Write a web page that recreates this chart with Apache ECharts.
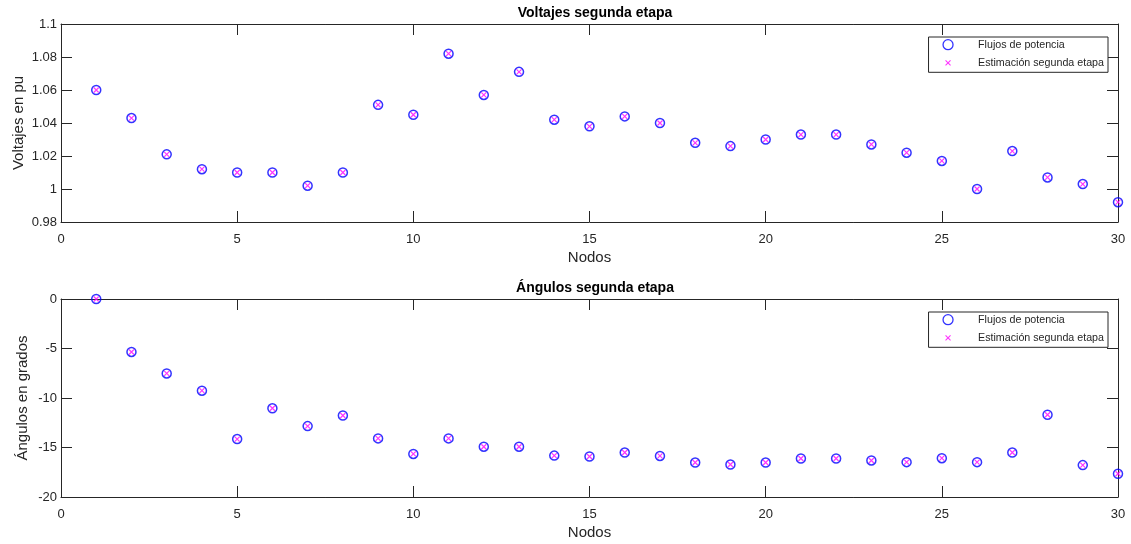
<!DOCTYPE html>
<html>
<head>
<meta charset="utf-8">
<script src="https://cdn.jsdelivr.net/npm/echarts@6/dist/echarts.min.js"></script>
<style>
  html, body { margin: 0; padding: 0; background: #fff; }
  #chart { width: 1131px; height: 544px; }
</style>
</head>
<body>
<div id="chart"></div>
<script>
// nodos del sistema
var nodos = [1, 2, 3, 4, 5, 6, 7, 8, 9, 10, 11, 12, 13, 14, 15, 16, 17, 18, 19, 20, 21, 22, 23, 24, 25, 26, 27, 28, 29, 30]

// voltajes en pu
var voltFlujos = [1.060, 1.043, 1.021, 1.012, 1.010, 1.010, 1.002, 1.010, 1.051, 1.045, 1.082, 1.057, 1.071, 1.042, 1.038,
  1.044, 1.040, 1.028, 1.026, 1.030, 1.033, 1.033, 1.027, 1.022, 1.017, 1.000, 1.023, 1.007, 1.003, 0.992]
var voltEstim = [1.060, 1.043, 1.021, 1.012, 1.010, 1.010, 1.002, 1.010, 1.051, 1.045, 1.082, 1.057, 1.071, 1.042, 1.038,
  1.044, 1.040, 1.028, 1.026, 1.030, 1.033, 1.033, 1.027, 1.022, 1.017, 1.000, 1.023, 1.007, 1.003, 0.992]

// angulos en grados
var angFlujos = [0, -5.35, -7.52, -9.26, -14.15, -11.04, -12.84, -11.77, -14.08, -15.65, -14.08, -14.92, -14.92, -15.82, -15.91,
  -15.51, -15.85, -16.52, -16.72, -16.52, -16.11, -16.11, -16.31, -16.48, -16.08, -16.48, -15.51, -11.69, -16.78, -17.65]
var angEstim = [0, -5.35, -7.52, -9.26, -14.15, -11.04, -12.84, -11.77, -14.08, -15.65, -14.08, -14.92, -14.92, -15.82, -15.91,
  -15.51, -15.85, -16.52, -16.72, -16.52, -16.11, -16.11, -16.31, -16.48, -16.08, -16.48, -15.51, -11.69, -16.78, -17.65]

var nombres = ['Flujos de potencia', 'Estimación segunda etapa']

var font = 'Liberation Sans, Arial, Helvetica, sans-serif'
var ink = '#262626'
var cruz = 'path://M0,0L10,10M10,0L0,10'

function pares(ys) {
  return nodos.map(function (n, i) { return [n, ys[i]] })
}

// eje x con marco tipo matlab (abajo con etiquetas, arriba solo ticks)
function ejesX(grid) {
  return [
    {
      gridIndex: grid, type: 'value', min: 0, max: 30, interval: 5,
      name: 'Nodos', nameLocation: 'middle', nameGap: 28,
      nameTextStyle: { fontFamily: font, fontSize: 15, color: ink },
      axisLine: { onZero: false, lineStyle: { color: ink, width: 1 } },
      axisTick: { inside: true, length: 11, lineStyle: { color: ink } },
      axisLabel: { margin: 11, fontFamily: font, fontSize: 13, color: ink },
      splitLine: { show: false }
    },
    {
      gridIndex: grid, type: 'value', position: 'top', min: 0, max: 30, interval: 5,
      axisLine: { onZero: false, lineStyle: { color: ink, width: 1 } },
      axisTick: { inside: true, length: 11, lineStyle: { color: ink } },
      axisLabel: { show: false },
      splitLine: { show: false }
    }
  ]
}

function ejesY(grid, min, max, step, nombre, gap, fmt) {
  return [
    {
      gridIndex: grid, type: 'value', min: min, max: max, interval: step,
      name: nombre, nameLocation: 'middle', nameGap: gap, nameMoveOverlap: false,
      nameTextStyle: { fontFamily: font, fontSize: 15, color: ink },
      axisLine: { show: true, onZero: false, lineStyle: { color: ink, width: 1 } },
      axisTick: { show: true, inside: true, length: 11, lineStyle: { color: ink } },
      axisLabel: { margin: 4, fontFamily: font, fontSize: 13, color: ink, formatter: fmt },
      splitLine: { show: false }
    },
    {
      gridIndex: grid, type: 'value', position: 'right', min: min, max: max, interval: step,
      axisLine: { show: true, onZero: false, lineStyle: { color: ink, width: 1 } },
      axisTick: { show: true, inside: true, length: 11, lineStyle: { color: ink } },
      axisLabel: { show: false },
      splitLine: { show: false }
    }
  ]
}

function series(xi, yi, flujos, estim) {
  return [
    {
      name: nombres[0], type: 'scatter', xAxisIndex: xi, yAxisIndex: yi,
      symbol: 'circle', symbolSize: 9,
      itemStyle: { color: 'rgba(0,0,0,0)', borderColor: '#0000ff', borderWidth: 1.5 },
      data: pares(flujos)
    },
    {
      name: nombres[1], type: 'scatter', xAxisIndex: xi, yAxisIndex: yi,
      symbol: cruz, symbolSize: 5,
      itemStyle: { color: 'none', borderColor: '#ff00ff', borderWidth: 1.2 },
      data: pares(estim)
    }
  ]
}

function leyenda(top) {
  return {
    orient: 'vertical', right: 23, top: top,
    padding: [2, 4, 2, 12], itemGap: 5, itemWidth: 10, itemHeight: 10,
    borderColor: ink, borderWidth: 1, backgroundColor: '#fff',
    textStyle: { fontFamily: font, fontSize: 10.7, lineHeight: 10, color: ink, padding: [0, 0, 0, 20] },
    data: [
      { name: nombres[0], icon: 'circle', itemStyle: { color: 'rgba(0,0,0,0)', borderColor: '#0000ff', borderWidth: 1.3 } },
      { name: nombres[1], icon: 'path://M0,0M10,10M2.5,2.5L7.5,7.5M7.5,2.5L2.5,7.5', itemStyle: { color: 'none', borderColor: '#ff00ff', borderWidth: 1.1 } }
    ],
    selectedMode: false
  }
}

var chart = echarts.init(document.getElementById('chart'))

var option = {
  animation: false,
  backgroundColor: '#fff',
  title: [
    { text: 'Voltajes segunda etapa', left: 590, textAlign: 'center', top: 1,
      textStyle: { fontFamily: font, fontSize: 14, fontWeight: 'bold', color: '#000' } },
    { text: 'Ángulos segunda etapa', left: 590, textAlign: 'center', top: 276,
      textStyle: { fontFamily: font, fontSize: 14, fontWeight: 'bold', color: '#000' } }
  ],
  legend: [leyenda(37), leyenda(312)],
  grid: [
    { left: 61, right: 13, top: 24, height: 198, containLabel: false, outerBoundsMode: 'none' },
    { left: 61, right: 13, top: 299, height: 198, containLabel: false, outerBoundsMode: 'none' }
  ],
  xAxis: ejesX(0).concat(ejesX(1)),
  yAxis: ejesY(0, 0.98, 1.1, 0.02, 'Voltajes en pu', 35, function (v) { return String(parseFloat(v.toFixed(2))) })
    .concat(ejesY(1, -20, 0, 5, 'Ángulos en grados', 31, function (v) { return String(v) })),
  series: series(0, 0, voltFlujos, voltEstim).concat(series(2, 2, angFlujos, angEstim))
}

chart.setOption(option)
</script>
</body>
</html>
